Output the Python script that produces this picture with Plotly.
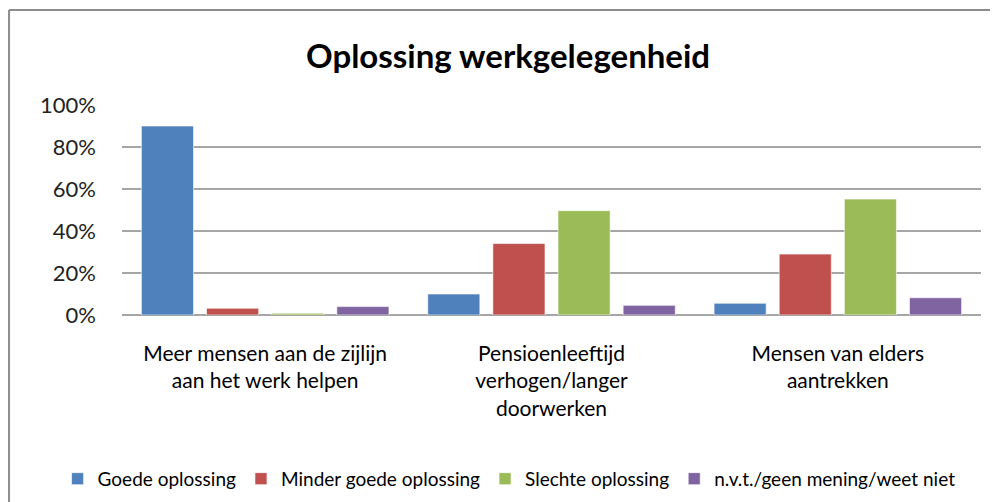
import plotly.graph_objects as go

categories = [
    'Meer mensen aan de zijlijn<br>aan het werk helpen',
    'Pensioenleeftijd<br>verhogen/langer<br>doorwerken',
    'Mensen van elders<br>aantrekken',
]

series_names = ['Goede oplossing', 'Minder goede oplossing', 'Slechte oplossing',
                'n.v.t./geen mening/weet niet']
goede = [90, 10, 5.6]
minder_goede = [3.2, 34, 29]
slechte = [0.8, 49.7, 55.2]
nvt = [4.0, 4.6, 8.2]

colors = ['#4f81bd', '#c0504d', '#9bbb59', '#8064a2']

fig = go.Figure()
for name, vals, c in zip(series_names, [goede, minder_goede, slechte, nvt], colors):
    fig.add_trace(go.Bar(x=categories, y=vals, name=name, marker_color=c,
                         marker_line=dict(color='rgba(255,255,255,0.6)', width=1)))

# page body has an 8px margin, so the figure is shifted by (8, 8)
fig.update_layout(
    width=998, height=502,
    margin=dict(l=114, r=25, t=97, b=195, autoexpand=False),
    paper_bgcolor='white', plot_bgcolor='white',
    font=dict(family='Lato, Calibri, sans-serif', color='#000000'),
    barmode='group', bargap=0.09, bargroupgap=0.2,
    showlegend=True,
    legend=dict(orientation='h', x=-0.075, xanchor='left', y=-0.78, yanchor='middle',
                font=dict(size=19), itemwidth=30, tracegroupgap=0),
    xaxis=dict(showline=False, ticks='', tickfont=dict(size=21),
               ticklabelstandoff=24),
    yaxis=dict(range=[0, 100], dtick=20, ticksuffix='%', showgrid=True,
               gridcolor='#a6a6a6', gridwidth=1.5, zeroline=True,
               zerolinecolor='#a6a6a6', zerolinewidth=1.5,
               tickfont=dict(size=22, color='#222222'), ticklabelstandoff=25),
    annotations=[
        dict(text='<b>Oplossing werkgelegenheid</b>', xref='paper', yref='paper',
             x=0.449, y=1.24, xanchor='center', yanchor='middle',
             showarrow=False, font=dict(size=33)),
    ],
    shapes=[
        dict(type='line', xref='paper', yref='paper', x0=-0.1315, x1=-0.1315,
             y0=1.452, y1=-0.95, line=dict(color='#8c8c8c', width=2)),
        dict(type='line', xref='paper', yref='paper', x0=-0.1315, x1=1.05,
             y0=1.452, y1=1.452, line=dict(color='#8c8c8c', width=2)),
    ],
)

fig.write_html('out.html')
